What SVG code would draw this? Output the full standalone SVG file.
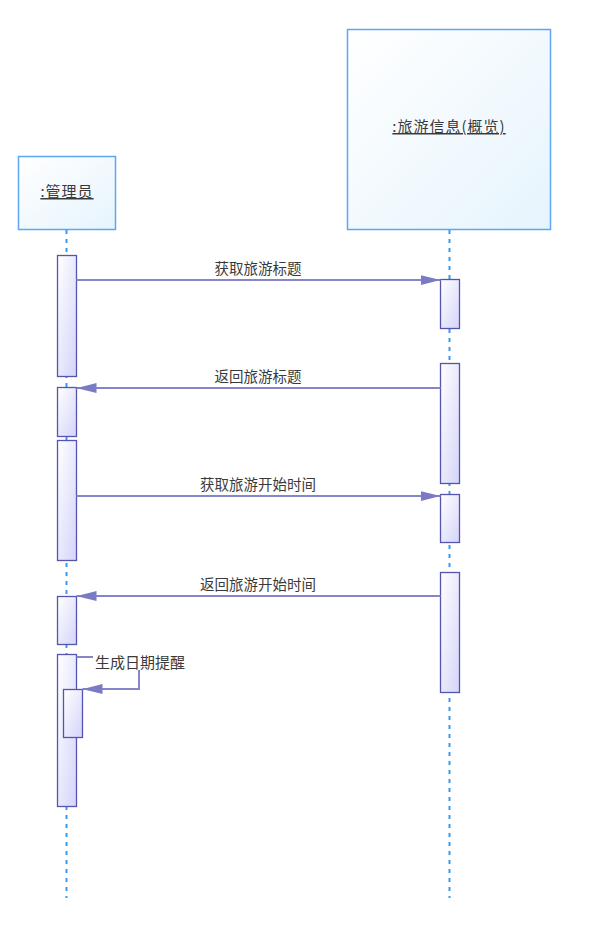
<svg xmlns="http://www.w3.org/2000/svg" width="601" height="940" viewBox="0 0 601 940">
<defs>
<linearGradient id="gActor" x1="0" y1="0" x2="1" y2="1">
<stop offset="0" stop-color="#ffffff"/><stop offset="1" stop-color="#e6f4fd"/>
</linearGradient>
<linearGradient id="gAct" x1="0" y1="0" x2="1" y2="1">
<stop offset="0" stop-color="#ffffff"/><stop offset="1" stop-color="#d4d4fa"/>
</linearGradient>
<marker id="arr" viewBox="0 0 20 10" refX="20" refY="5" markerWidth="20" markerHeight="10" markerUnits="userSpaceOnUse" orient="auto">
<path d="M0,0 L20,5 L0,10 Z" fill="#7b7bc4"/>
</marker>
<style>
.actor{fill:url(#gActor);stroke:#5ea6f5;stroke-width:1.5}
.act{fill:url(#gAct);stroke:#5555b0;stroke-width:1.3}
.life{stroke:#3a98f0;stroke-width:2;stroke-dasharray:4 5;fill:none}
.msg{stroke:#8585c8;stroke-width:2;fill:none}
.lbl{font-family:"Noto Sans CJK SC","Liberation Sans",sans-serif;font-size:14.5px;fill:#3a3a3a}
.ttl{font-family:"Noto Sans CJK SC","Liberation Sans",sans-serif;font-size:15px;letter-spacing:1px;fill:#3a3a3a;text-decoration:underline}
</style>
</defs>
<g id="lifelines">
<line class="life" x1="66.5" y1="230" x2="66.5" y2="898"/>
<line class="life" x1="449.5" y1="230" x2="449.5" y2="898"/>
</g>
<g id="actor-admin">
<rect class="actor" x="18.5" y="156.5" width="97" height="73"/>
<text class="ttl" x="67" y="197" text-anchor="middle">:管理员</text>
</g>
<g id="actor-travel">
<rect class="actor" x="347.5" y="29.5" width="203" height="200"/>
<text class="ttl" x="449" y="132" text-anchor="middle">:旅游信息(概览)</text>
</g>
<g id="activations">
<rect class="act" x="57.5" y="255.5" width="19" height="121"/>
<rect class="act" x="57.5" y="387.5" width="19" height="49"/>
<rect class="act" x="57.5" y="440.5" width="19" height="120"/>
<rect class="act" x="57.5" y="596.5" width="19" height="48"/>
<rect class="act" x="57.5" y="654.5" width="19" height="152"/>
<rect class="act" x="63.5" y="689.5" width="19" height="48"/>
<rect class="act" x="440.5" y="279.5" width="19" height="49"/>
<rect class="act" x="440.5" y="363.5" width="19" height="120"/>
<rect class="act" x="440.5" y="494.5" width="19" height="48"/>
<rect class="act" x="440.5" y="572.5" width="19" height="120"/>
</g>
<g id="connectors">
<line class="msg" x1="76.5" y1="280" x2="440.5" y2="280" marker-end="url(#arr)"/>
<line class="msg" x1="440.5" y1="388" x2="76.5" y2="388" marker-end="url(#arr)"/>
<line class="msg" x1="76.5" y1="496" x2="440.5" y2="496" marker-end="url(#arr)"/>
<line class="msg" x1="440.5" y1="596" x2="76.5" y2="596" marker-end="url(#arr)"/>
<polyline class="msg" points="76.5,657 93,657"/>
<polyline class="msg" points="139,670 139,689 82.5,689" marker-end="url(#arr)"/>
</g>
<g id="labels">
<text class="lbl" x="258" y="274" text-anchor="middle">获取旅游标题</text>
<text class="lbl" x="258" y="382" text-anchor="middle">返回旅游标题</text>
<text class="lbl" x="258" y="490" text-anchor="middle">获取旅游开始时间</text>
<text class="lbl" x="258" y="590" text-anchor="middle">返回旅游开始时间</text>
<text class="lbl" x="95" y="668" style="font-size:15px">生成日期提醒</text>
</g>
</svg>
